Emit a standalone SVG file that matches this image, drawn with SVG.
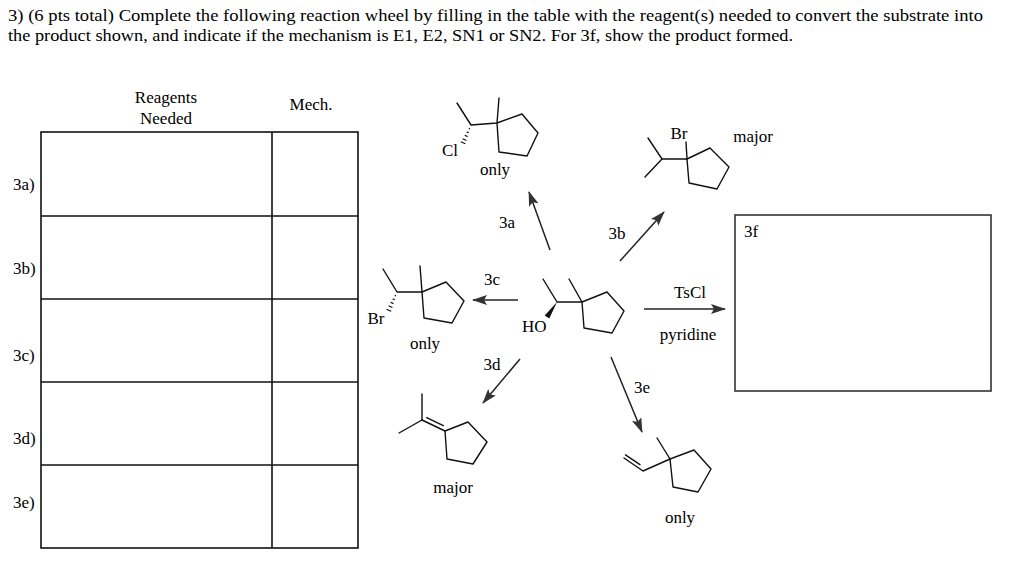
<svg xmlns="http://www.w3.org/2000/svg" width="1024" height="567" viewBox="0 0 1024 567">
<style>
text{font-family:"Liberation Serif","Times New Roman",serif;font-size:17px;fill:#000}
.mid{text-anchor:middle}
.tbl{fill:none;stroke:#111;stroke-width:1.6}
.bond{fill:none;stroke:#111;stroke-width:1.4;stroke-linecap:round;stroke-linejoin:round}
.arr{fill:none;stroke:#222;stroke-width:1.5}
.hash{stroke:#111;stroke-width:1.2;fill:none}
</style>
<defs>
<marker id="ah" viewBox="0 0 15 10" refX="14" refY="5" markerWidth="15" markerHeight="10" markerUnits="userSpaceOnUse" orient="auto">
<path d="M0,0 L15,5 L0,10 L3,5 z" fill="#333"/>
</marker>
</defs>
<rect width="1024" height="567" fill="#fff"/>
<g id="question">
<text x="8" y="21" textLength="975" lengthAdjust="spacingAndGlyphs">3) (6 pts total) Complete the following reaction wheel by filling in the table with the reagent(s) needed to convert the substrate into</text>
<text x="8" y="41" textLength="785" lengthAdjust="spacingAndGlyphs">the product shown, and indicate if the mechanism is E1, E2, SN1 or SN2. For 3f, show the product formed.</text>
</g>
<g id="table">
<rect class="tbl" x="41" y="132" width="317" height="416"/>
<line class="tbl" x1="272" y1="132" x2="272" y2="548"/>
<line class="tbl" x1="41" y1="216" x2="358" y2="216"/>
<line class="tbl" x1="41" y1="299" x2="358" y2="299"/>
<line class="tbl" x1="41" y1="382" x2="358" y2="382"/>
<line class="tbl" x1="41" y1="465" x2="358" y2="465"/>
<text class="mid" x="166" y="103">Reagents</text>
<text class="mid" x="166" y="124">Needed</text>
<text class="mid" x="311" y="110">Mech.</text>
<text x="13" y="190">3a)</text>
<text x="13" y="274">3b)</text>
<text x="13" y="361">3c)</text>
<text x="13" y="444">3d)</text>
<text x="13" y="508">3e)</text>
</g>
<g id="substrate">
<polyline class="bond" points="543,279 557,302 582,302 569,279"/>
<polygon class="bond" points="582,302 607,292 624,311 612,333 584,328"/>
<polygon points="557,302 549.3,318.6 544.7,315.4" fill="#111"/>
<text x="522" y="332">HO</text>
</g>
<g id="product-3a">
<polyline class="bond" points="457,103 471,125 497,123 499,98"/>
<polygon class="bond" points="497,123 522,114 538,133 527,156 499,152"/>
<path class="hash" d="M468.8,128.4 L469.9,128.9 M466.7,131.9 L468.7,132.8 M464.7,135.3 L467.6,136.6 M462.6,138.8 L466.4,140.5 M460.8,141.8 L465.4,143.8"/>
<text x="442" y="156">Cl</text>
<text class="mid" x="495" y="175">only</text>
</g>
<g id="product-3b">
<polyline class="bond" points="648,138 662,159 687,159"/>
<line class="bond" x1="662" y1="159" x2="645" y2="177"/>
<line class="bond" x1="687" y1="159" x2="686" y2="142"/>
<polygon class="bond" points="687,159 710,148 729,167 717,189 689,183"/>
<text class="mid" x="679" y="139">Br</text>
<text class="mid" x="753" y="142">major</text>
</g>
<g id="product-3c">
<polyline class="bond" points="383,269 397,292 422,292 420,266"/>
<polygon class="bond" points="422,292 446,282 464,301 452,323 424,318"/>
<path class="hash" d="M394.8,295.4 L395.9,295.9 M392.7,298.9 L394.7,299.8 M390.6,302.3 L393.5,303.6 M388.5,305.7 L392.4,307.5 M386.4,309.2 L391.2,311.3"/>
<text class="mid" x="376" y="324">Br</text>
<text class="mid" x="425" y="349">only</text>
</g>
<g id="product-3d">
<line class="bond" x1="422" y1="394" x2="422" y2="420"/>
<line class="bond" x1="399" y1="433" x2="422" y2="420"/>
<line class="bond" x1="422" y1="420" x2="445" y2="431"/>
<line class="bond" x1="426.7" y1="417.7" x2="443.3" y2="425.7"/>
<polygon class="bond" points="445,431 468,422 487,442 473,464 447,459"/>
<text class="mid" x="453" y="493">major</text>
</g>
<g id="product-3e">
<line class="bond" x1="657" y1="438" x2="670" y2="459"/>
<polyline class="bond" points="624,458 643,471 670,459"/>
<line class="bond" x1="625.5" y1="454.8" x2="640" y2="464.7"/>
<polygon class="bond" points="670,459 694,450 711,469 698,492 673,487"/>
<text class="mid" x="680" y="523">only</text>
</g>
<g id="box-3f">
<rect x="735" y="215" width="256" height="176" fill="none" stroke="#333" stroke-width="1.6"/>
<text x="744" y="237">3f</text>
</g>
<g id="connectors">
<line class="arr" x1="550" y1="250" x2="529" y2="192" marker-end="url(#ah)"/>
<line class="arr" x1="620" y1="261" x2="664" y2="212" marker-end="url(#ah)"/>
<line class="arr" x1="518" y1="300" x2="473" y2="300" marker-end="url(#ah)"/>
<line class="arr" x1="520" y1="359" x2="483" y2="403" marker-end="url(#ah)"/>
<line class="arr" x1="611" y1="357" x2="642" y2="432" marker-end="url(#ah)"/>
<line class="arr" x1="644" y1="309" x2="725" y2="309" marker-end="url(#ah)"/>
<text class="mid" x="507" y="228">3a</text>
<text class="mid" x="617" y="239">3b</text>
<text class="mid" x="492" y="285">3c</text>
<text class="mid" x="492" y="370">3d</text>
<text class="mid" x="642" y="393">3e</text>
<text class="mid" x="690" y="298">TsCl</text>
<text class="mid" x="688" y="340">pyridine</text>
</g>
</svg>
